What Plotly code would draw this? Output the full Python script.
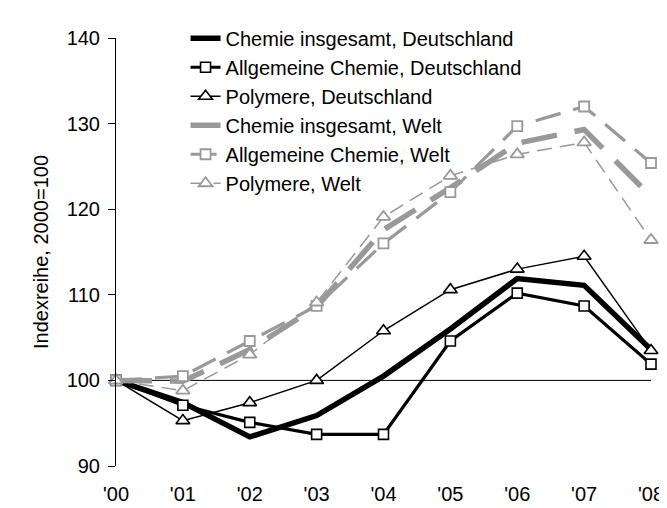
import plotly.graph_objects as go

YEARS = ["'00", "'01", "'02", "'03", "'04", "'05", "'06", "'07", "'08"]

CHEMIE_DE = [100, 97.4, 93.4, 95.9, 100.5, 106.0, 111.9, 111.1, 103.6]
ALLGEMEIN_DE = [100, 97.1, 95.1, 93.7, 93.7, 104.6, 110.2, 108.7, 101.9]
POLYMERE_DE = [100, 95.3, 97.4, 100.0, 105.8, 110.6, 113.0, 114.5, 103.5]
CHEMIE_WELT = [100, 99.9, 103.6, 108.6, 117.6, 122.5, 127.7, 129.3, 121.5]
ALLGEMEIN_WELT = [100, 100.5, 104.6, 108.7, 116.0, 122.0, 129.7, 132.0, 125.4]
POLYMERE_WELT = [100, 98.8, 103.0, 109.1, 119.1, 123.9, 126.4, 127.8, 116.4]

NAMES = [
    "Chemie insgesamt, Deutschland",
    "Allgemeine Chemie, Deutschland",
    "Polymere, Deutschland",
    "Chemie insgesamt, Welt",
    "Allgemeine Chemie, Welt",
    "Polymere, Welt",
]
BASELINE = 100
Y_TICKS = [90, 100, 110, 120, 130, 140]

FONT = "Liberation Sans, Arial, sans-serif"
GRAY = "#999999"
BLACK = "#000000"

series = [CHEMIE_DE, ALLGEMEIN_DE, POLYMERE_DE, CHEMIE_WELT, ALLGEMEIN_WELT, POLYMERE_WELT]
styles = [
    dict(line=dict(color=BLACK, width=5.5), mode="lines", marker=None),
    dict(line=dict(color=BLACK, width=3.2), mode="lines+markers",
         marker=dict(symbol="square", size=10, color="white", line=dict(color=BLACK, width=1.6))),
    dict(line=dict(color=BLACK, width=1.5), mode="lines+markers",
         marker=dict(symbol="triangle-up", size=12, color="white", line=dict(color=BLACK, width=1.6))),
    dict(line=dict(color=GRAY, width=5.5, dash="36px,18px"), mode="lines", marker=None),
    dict(line=dict(color=GRAY, width=3.2, dash="26px,13px"), mode="lines+markers",
         marker=dict(symbol="square", size=10, color="white", line=dict(color=GRAY, width=1.8))),
    dict(line=dict(color=GRAY, width=1.5, dash="15px,8px"), mode="lines+markers",
         marker=dict(symbol="triangle-up", size=12, color="white", line=dict(color=GRAY, width=1.8))),
]

fig = go.Figure()
# draw world series first so German series sit on top? keep legend order
order = [3, 4, 5, 0, 1, 2]
for i in range(6):
    st = styles[i]
    kw = dict(x=YEARS, y=series[i], name=NAMES[i], mode=st["mode"], line=st["line"],
              cliponaxis=False, legendrank=i + 1, legendgroup=f"g{i}")
    if st["marker"] is not None:
        kw["marker"] = st["marker"]
    fig.add_trace(go.Scatter(**kw))

fig.add_shape(type="line", xref="paper", x0=0, x1=1, yref="y", y0=BASELINE, y1=BASELINE,
              line=dict(color=BLACK, width=1), layer="below")

fig.update_layout(
    width=667, height=508,
    margin=dict(l=108, r=11, t=25, b=41),
    paper_bgcolor="white", plot_bgcolor="white",
    font=dict(family=FONT, size=20, color=BLACK),
    showlegend=True,
    legend=dict(x=0.13, y=1.045, xanchor="left", yanchor="top",
                bgcolor="rgba(0,0,0,0)", font=dict(size=20, family=FONT),
                tracegroupgap=3, traceorder="normal"),
    xaxis=dict(type="category", range=[0, 8], showgrid=False, zeroline=False,
               showline=False, ticks="", tickfont=dict(size=20), ticklabelstandoff=14),
    yaxis=dict(range=[90, 140], tickvals=Y_TICKS, showgrid=False, zeroline=False,
               showline=True, linecolor=BLACK, linewidth=1, ticks="outside", ticklen=7,
               tickcolor=BLACK, tickfont=dict(size=20), ticklabelstandoff=4,
               title=dict(text="Indexreihe, 2000=100", font=dict(size=20), standoff=12)),
)

fig.write_html("out.html")
